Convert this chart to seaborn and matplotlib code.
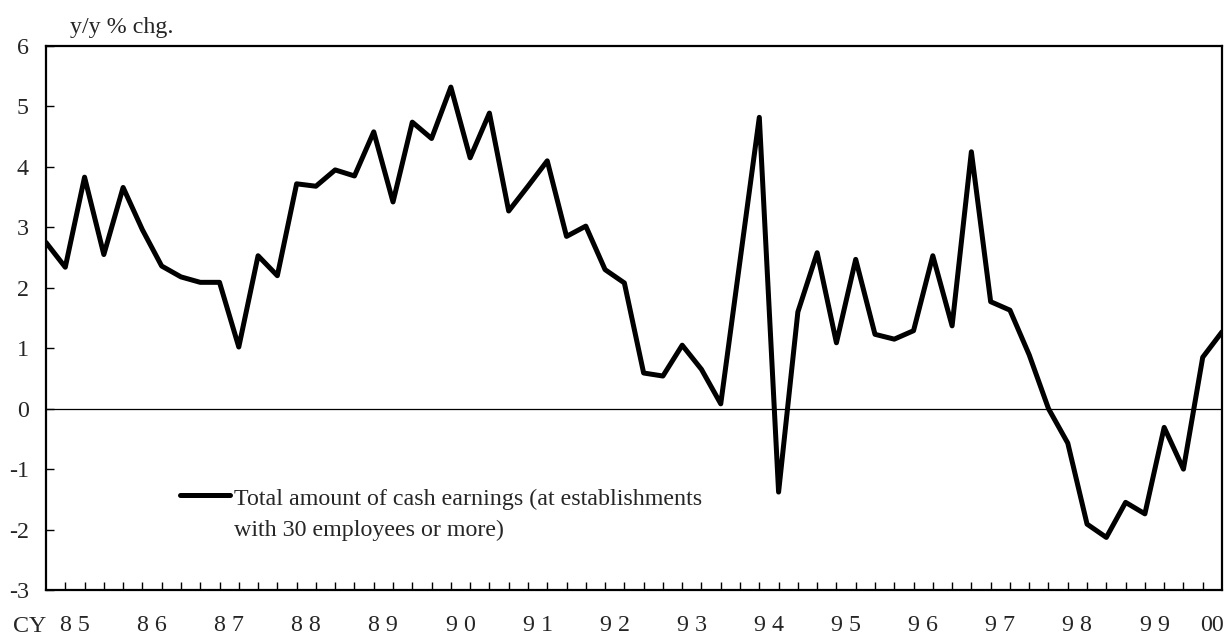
import numpy as np
import pandas as pd
import seaborn as sns
import matplotlib.pyplot as plt
from matplotlib.ticker import FixedLocator

# quarterly y/y % change, 1985 Q1 - 2000 Q2
quarters = pd.period_range("1985Q1", "2000Q2", freq="Q")
earnings = [2.75, 2.34, 3.83, 2.55, 3.66, 2.96, 2.36, 2.18,
            2.09, 2.09, 1.02, 2.53, 2.20, 3.72, 3.68, 3.95,
            3.85, 4.58, 3.42, 4.74, 4.47, 5.32, 4.15, 4.89,
            3.27, 3.68, 4.10, 2.85, 3.02, 2.30, 2.08, 0.59,
            0.54, 1.05, 0.65, 0.08, 2.45, 4.82, -1.38, 1.60,
            2.58, 1.09, 2.47, 1.23, 1.15, 1.29, 2.53, 1.37,
            4.25, 1.77, 1.63, 0.89, 0.00, -0.57, -1.91, -2.13,
            -1.55, -1.74, -0.31, -1.00, 0.85, 1.27]
year_labels = ["8 5", "8 6", "8 7", "8 8", "8 9", "9 0", "9 1", "9 2",
               "9 3", "9 4", "9 5", "9 6", "9 7", "9 8", "9 9", "00"]
series_name = "Total amount of cash earnings (at establishments\nwith 30 employees or more)"

df = pd.DataFrame({"year": quarters.year, "t": np.arange(len(quarters)), "value": earnings})

sns.set_style("ticks")
plt.rcParams["font.family"] = ["Liberation Serif", "DejaVu Serif"]
plt.rcParams["axes.unicode_minus"] = False

fs = 17.3
spacing = 1.6

fig = plt.figure(figsize=(12.26, 6.36), dpi=100)
ax = fig.add_axes([46 / 1226, 1 - 590 / 636, 1176 / 1226, 544 / 636])

ax.axhline(0, color="black", lw=0.9, zorder=1)
sns.lineplot(data=df, x="t", y="value", color="black", lw=3.6,
             label=series_name, ax=ax, zorder=3)

ax.set_xlim(0, len(quarters) - 1)
ax.set_ylim(-3, 6)
ax.set_yticks(range(-3, 7))
ax.set_xlabel("")
ax.set_ylabel("")

# year labels sit in the middle of each year's quarters, quarter ticks point inward
year_mid = df.groupby("year")["t"].mean()
ax.set_xticks(year_mid.values)
ax.set_xticklabels(year_labels)
ax.xaxis.set_minor_locator(FixedLocator(range(1, len(quarters) - 1)))
ax.tick_params(axis="x", which="major", length=0, pad=18, labelsize=fs)
ax.tick_params(axis="x", which="minor", direction="in", length=6, width=1, color="black")
ax.tick_params(axis="y", direction="in", length=6, width=1, pad=12.5, labelsize=fs, color="black")

for s in ax.spines.values():
    s.set_visible(True)
    s.set_linewidth(1.6)
    s.set_color("black")

leg = ax.legend(loc="upper left", bbox_to_anchor=(124 / 1176, 111 / 544), frameon=False,
                fontsize=fs, handlelength=2.08, handletextpad=0.2, borderaxespad=0)
txt = leg.get_texts()[0]
txt.set_linespacing(spacing)
# put the legend line level with the first text line
hl = leg.legend_handles[0]
hl.set_ydata(np.asarray(hl.get_ydata()) + 0.5 * spacing * fs)

fig.text(70 / 1226, 1 - 28 / 636, "y/y % chg.", fontsize=fs, va="center")
fig.text(13 / 1226, 1 - 627 / 636, "CY", fontsize=fs, va="center")

fig.savefig("out.png", dpi=100, facecolor="white")
